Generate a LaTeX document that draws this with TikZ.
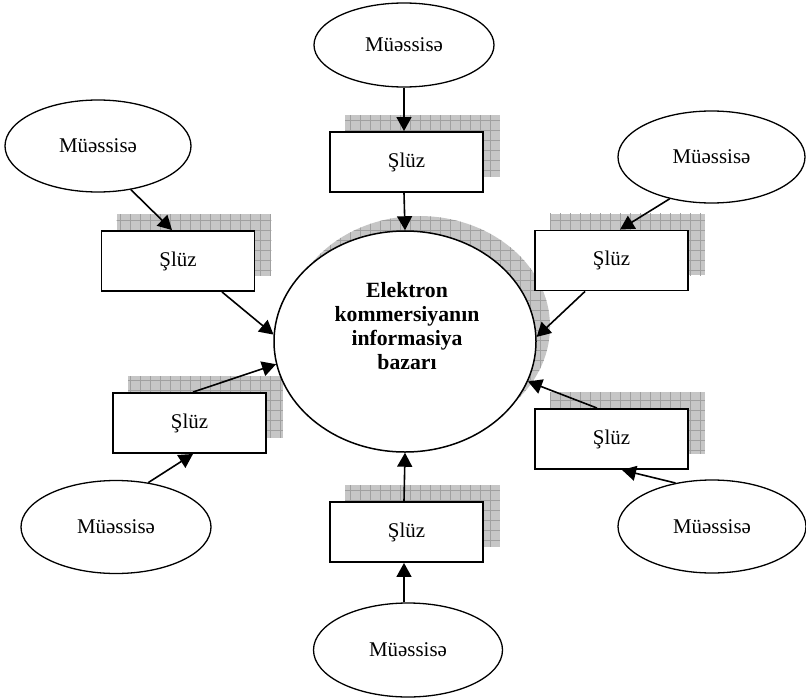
\documentclass[tikz,border=0pt]{standalone}
\usepackage{fontspec}
\setmainfont{Liberation Serif}
\usetikzlibrary{shapes.geometric,arrows.meta,calc,backgrounds}
\definecolor{shadowfill}{RGB}{198,198,198}
\definecolor{gridline}{RGB}{160,160,160}

\begin{document}
\begin{tikzpicture}[x=1bp,y=-1bp,
  firm/.style={ellipse, draw, line width=1.3bp, fill=white, inner sep=0pt,
    minimum width=188bp, minimum height=93bp, font=\fontsize{21}{24}\selectfont},
  gate/.style={rectangle, draw, line width=1.9bp, fill=white, inner sep=0pt,
    minimum width=153bp, minimum height=60bp, font=\fontsize{21}{24}\selectfont},
  hub/.style={ellipse, draw, line width=1.5bp, fill=white, inner sep=0pt,
    minimum width=262bp, minimum height=221bp},
  link/.style={line width=1.6bp, -{Triangle[length=14bp,width=15bp]}},
  gridshade/.style={gridline, line width=0.6bp},
]
\useasboundingbox (0,0) rectangle (806,698);

% central database
\node[hub] (C) at (405,341.5) {};
\node[font=\bfseries\fontsize{21.8}{24.3}\selectfont, align=center] (Ctitle) at (407,326)
  {Elektron\\kommersiyan\i n\\informasiya\\bazar\i};

% gateways
\node[gate] (B1) at (406.5,162) {Şlüz};
\node[gate] (B2) at (178,261) {Şlüz};
\node[gate] (B3) at (189.5,423) {Şlüz};
\node[gate] (B4) at (406.5,532) {Şlüz};
\node[gate] (B5) at (611.5,260.5) {Şlüz};
\node[gate] (B6) at (611.5,439) {Şlüz};

% enterprises
\node[firm, minimum width=180bp, minimum height=84bp] (E1) at (404,45) {Müəssisə};
\node[firm, minimum width=186bp, minimum height=92bp] (E2) at (98,146) {Müəssisə};
\node[firm, minimum width=190bp] (E3) at (116,527) {Müəssisə};
\node[firm, minimum width=189bp, minimum height=94bp] (E4) at (408,650) {Müəssisə};
\node[firm, minimum width=187bp, minimum height=92bp] (E5) at (711.5,157) {Müəssisə};
\node[firm] (E6) at (712,526.5) {Müəssisə};

% hatched drop shadows
\begin{scope}[on background layer]
  \begin{scope}
    \clip ($(C.center)+(14,-15)$) ellipse [x radius=131bp, y radius=110.5bp];
    \fill[shadowfill] (0,0) rectangle (806,698);
    \draw[gridshade] (0,0) grid[xstep=10bp,ystep=10bp] (806,698);
  \end{scope}
  \foreach \b in {B1,B2,B3,B4,B5,B6} {
    \begin{scope}
      \clip ($(\b.south west)+(16,-16)$) rectangle ($(\b.north east)+(16,-16)$);
      \fill[shadowfill] ($(\b.south west)+(16,-16)$) rectangle ($(\b.north east)+(16,-16)$);
      \draw[gridshade] (0,0) grid[xstep=10bp,ystep=10bp] (806,698);
    \end{scope}
  }
\end{scope}

% connectors
\draw[link] (E1.south) -- (E1.south |- B1.north);
\draw[link] (B1.south -| E1.south) -- (C.north);
\draw[link] (E2.307) -- ($(B2.north)+(-6,0)$);
\draw[link] ($(B2.south)+(44,0)$) -- (C.177);
\draw[link] (E3.54) -- ($(B3.south)+(3.5,0)$);
\draw[link] ($(B3.north)+(3.5,0)$) -- (C.190);
\draw[link] (E4.north -| E1.south) -- (B4.south -| E1.south);
\draw[link] (B4.north -| E1.south) -- (C.south);
\draw[link] (E5.225) -- ($(B5.north)+(8.5,0)$);
\draw[link] ($(B5.south)+(-26.5,0)$) -- (C.2);
\draw[link] (E6.130) -- ($(B6.south)+(10.5,0)$);
\draw[link] ($(B6.north)+(-14.5,0)$) -- (C.342);
\end{tikzpicture}
\end{document}
